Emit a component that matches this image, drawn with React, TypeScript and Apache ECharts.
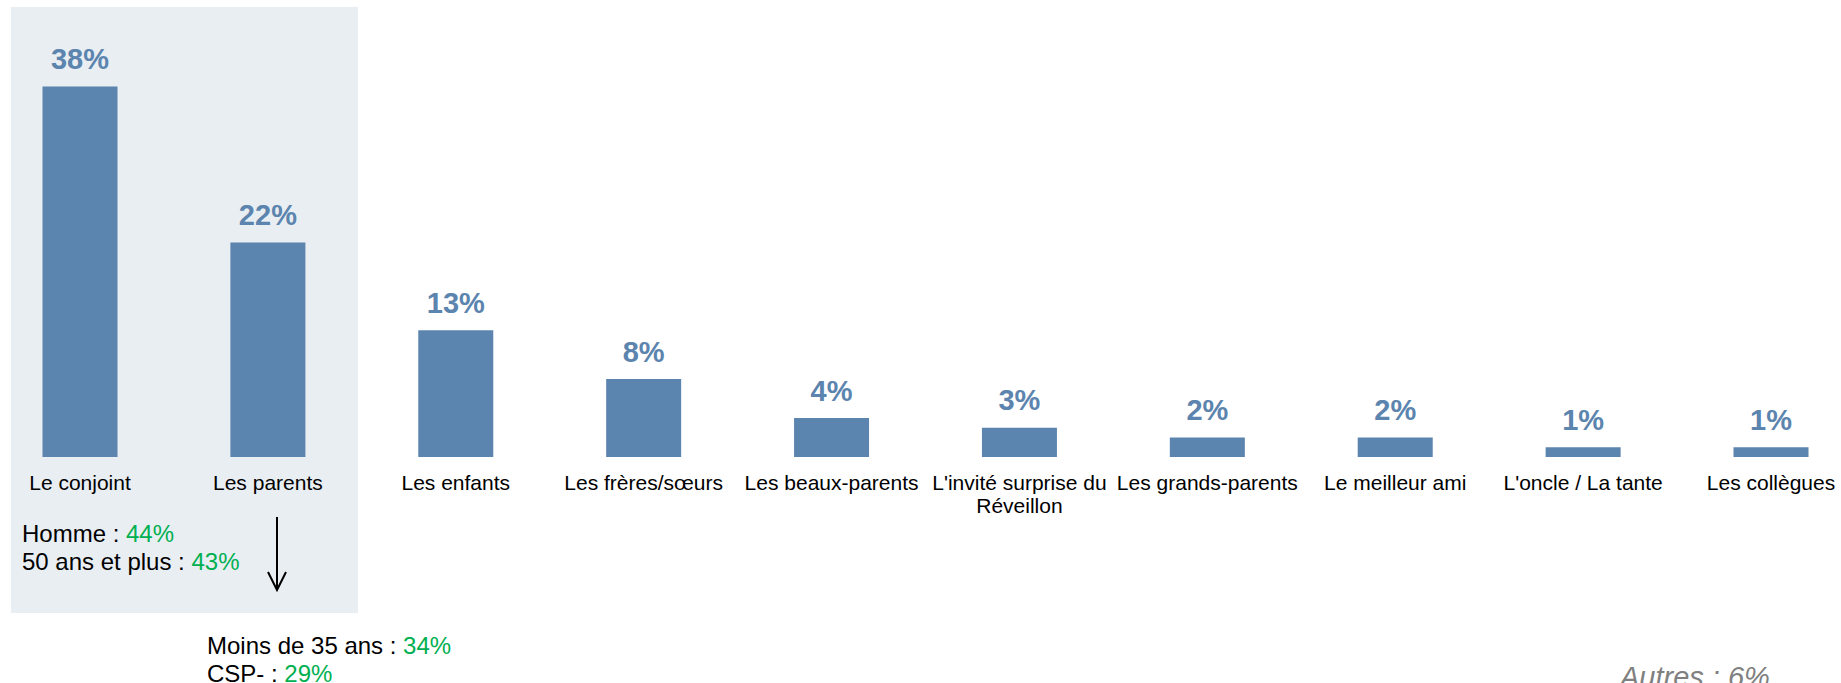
import React, { useEffect, useRef } from "react";
import * as echarts from "echarts";

const categories = [
  "Le conjoint",
  "Les parents",
  "Les enfants",
  "Les frères/sœurs",
  "Les beaux-parents",
  "L'invité surprise du\nRéveillon",
  "Les grands-parents",
  "Le meilleur ami",
  "L'oncle / La tante",
  "Les collègues",
];
const values = [38, 22, 13, 8, 4, 3, 2, 2, 1, 1];

const noteConjoint = [
  ["Homme : ", "44%"],
  ["50 ans et plus : ", "43%"],
];
const noteParents = [
  ["Moins de 35 ans : ", "34%"],
  ["CSP- : ", "29%"],
];
const autresLabel = "Autres : 6%";

const FONT = "'Liberation Sans', Arial, sans-serif";
const BAR = "#5b84ae";
const GREEN = "#00b050";

function richText(lines: string[][]) {
  return lines.map(([k, v]) => `{k|${k}}{v|${v}}`).join("\n");
}

export default function App() {
  const ref = useRef<HTMLDivElement>(null);
  useEffect(() => {
    document.body.style.margin = "0";
    if (!ref.current) return;
    const chart = echarts.init(ref.current, null, { renderer: "svg" });
    const rich = {
      k: { fill: "#000", fontSize: 24, fontFamily: FONT, lineHeight: 28 },
      v: { fill: GREEN, fontSize: 24, fontFamily: FONT, lineHeight: 28 },
    };
    chart.setOption({
      animation: false,
      backgroundColor: "#ffffff",
      grid: { left: 80, right: 70, top: 67, bottom: 226 },
      xAxis: {
        type: "category",
        data: categories,
        boundaryGap: false,
        axisLine: { show: false },
        axisTick: { show: false },
        axisLabel: {
          interval: 0,
          margin: 14,
          color: "#000",
          fontSize: 21,
          lineHeight: 23,
          fontFamily: FONT,
          verticalAlign: "top",
        },
      },
      yAxis: {
        type: "value",
        min: 0,
        max: 40,
        show: false,
        splitLine: { show: false },
      },
      graphic: [
        {
          type: "rect",
          z: -10,
          shape: { x: 11, y: 7, width: 347, height: 606 },
          style: { fill: "#e9eef3" },
        },
        {
          type: "text",
          x: 22,
          y: 547,
          style: {
            text: richText(noteConjoint),
            rich,
            verticalAlign: "middle",
            fontFamily: FONT,
            fontSize: 24,
          },
        },
        {
          type: "text",
          x: 207,
          y: 659,
          style: {
            text: richText(noteParents),
            rich,
            verticalAlign: "middle",
            fontFamily: FONT,
            fontSize: 24,
          },
        },
        {
          type: "line",
          shape: { x1: 277, y1: 517, x2: 277, y2: 590 },
          style: { stroke: "#000", lineWidth: 2 },
        },
        {
          type: "polyline",
          shape: { points: [[268, 572], [277, 590], [286, 572]] },
          style: { stroke: "#000", lineWidth: 2, fill: "none" },
        },
        {
          type: "text",
          x: 1620,
          y: 677,
          style: {
            text: autresLabel,
            fill: "#808080",
            fontSize: 29,
            fontStyle: "italic",
            fontFamily: FONT,
            verticalAlign: "middle",
          },
        },
      ],
      series: [
        {
          type: "bar",
          data: values,
          barWidth: 75,
          clip: false,
          itemStyle: { color: BAR },
          label: {
            show: true,
            position: "top",
            distance: 13,
            formatter: "{c}%",
            color: BAR,
            fontSize: 29,
            fontWeight: "bold",
            fontFamily: FONT,
          },
        },
      ],
    });
    return () => chart.dispose();
  }, []);
  return <div ref={ref} style={{ width: 1841, height: 683 }} />;
}
